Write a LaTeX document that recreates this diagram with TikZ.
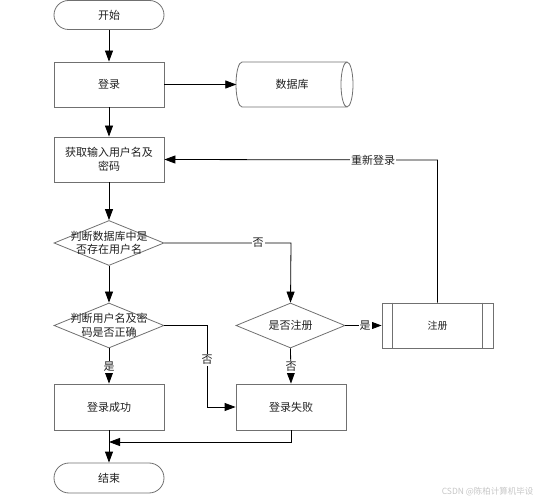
\documentclass[tikz,border=0pt]{standalone}
\usepackage{fontspec}
\newfontfamily\cjk{Noto Sans CJK SC}
\usetikzlibrary{arrows.meta,shapes.geometric}
\definecolor{boxgray}{HTML}{707070}
\definecolor{txt}{HTML}{202020}
\begin{document}
\begin{tikzpicture}[x=1pt,y=-1pt,
  every node/.style={font=\cjk\fontsize{11}{13.5}\selectfont, text=txt},
  proc/.style={draw=boxgray, line width=0.8pt, minimum width=110pt, minimum height=45pt, inner sep=0pt, align=center},
  term/.style={draw=boxgray, line width=0.8pt, rounded corners=14.5pt, minimum width=110pt, minimum height=29pt, inner sep=0pt},
  dec/.style={diamond, draw=boxgray, line width=0.8pt, minimum width=110pt, minimum height=45pt, inner sep=0pt},
  dtext/.style={align=center, inner sep=0pt},
  arr/.style={draw=black, line width=0.8pt, -{Triangle[length=11pt,width=8pt]}},
  ln/.style={draw=black, line width=0.8pt},
  lab/.style={fill=white, inner sep=1pt}
]
\useasboundingbox (0,0) rectangle (539,500);

% nodes
\node[term] (start) at (109,15) {开始};
\node[proc] (login) at (109,84.5) {登录};
\node[minimum width=111pt, minimum height=45pt, inner sep=0pt] (db) at (292,84.5) {数据库};
\draw[draw=boxgray, line width=0.8pt]
  (242,62) -- (347,62) (242,107) -- (347,107)
  (242,62) arc[start angle=-90, end angle=-270, x radius=6, y radius=22.5]
  (347,84.5) ellipse[x radius=6, y radius=22.5];
\node[proc] (input) at (109,159.5) {获取输入用户名及\\密码};
\node[dec] (d1) at (109,243) {};
\node[dtext] (d1t) at (109,243) {判断数据库中是\\否存在用户名};
\node[dec] (d2) at (109,325.5) {};
\node[dtext] (d2t) at (109,325.5) {判断用户名及密\\码是否正确};
\node[dec, minimum width=109pt] (d3) at (290.5,325.5) {};
\node[dtext] (d3t) at (290.5,325.5) {是否注册};
\node[proc, minimum width=111pt] (reg) at (437.5,325.5) {\fontsize{10}{12}\selectfont 注册};
\draw[draw=boxgray, line width=0.8pt]
  ([xshift=11pt]reg.north west) -- ([xshift=11pt]reg.south west)
  ([xshift=-11pt]reg.north east) -- ([xshift=-11pt]reg.south east);
\node[proc, minimum height=46pt] (succ) at (109,407) {登录成功};
\node[proc, minimum height=46pt] (fail) at (291,407) {登录失败};
\node[term, minimum height=30pt, rounded corners=15pt] (end) at (109,478) {结束};

\coordinate (c1) at (291,243);
\coordinate (c2) at (437.5,160);
\coordinate (c3) at (207,325.5);
\coordinate (c4) at (207,407);
\coordinate (c5) at (291,442);
\coordinate (c6) at (109,442);

% connectors
\draw[arr] (start) -- (login);
\draw[arr] (login.east) -- (db.west);
\draw[arr] (login) -- (input);
\draw[arr] (input) -- (d1.north);
\draw[arr] (d1.east) -- (c1) -- (d3.north);
\node[lab] (l1) at (258,243) {否};
\draw[arr] (d3.east) -- (reg.west);
\node[lab] (l2) at (365,325.5) {是};
\draw[arr] (reg.north) -- (c2) -- (input.east);
\node[lab] (l3) at (373,160) {重新登录};
\draw[arr] (d1.south) -- (d2.north);
\draw[arr] (d2.east) -- (c3) -- (c4) -- (fail.west);
\node[lab] (l4) at (207,360) {否};
\draw[arr] (d2.south) -- (succ.north);
\node[lab] (l5) at (109,367) {是};
\draw[arr] (d3.south) -- (fail.north);
\node[lab] (l6) at (291,367) {否};
\draw[arr] (fail.south) -- (c5) -- (c6);
\draw[arr] (succ.south) -- (end.north);

\node[anchor=east, text=gray!45, font=\cjk\fontsize{8.5}{10}\selectfont] (wm) at (537,492) {CSDN @陈柏计算机毕设};
\end{tikzpicture}
\end{document}
